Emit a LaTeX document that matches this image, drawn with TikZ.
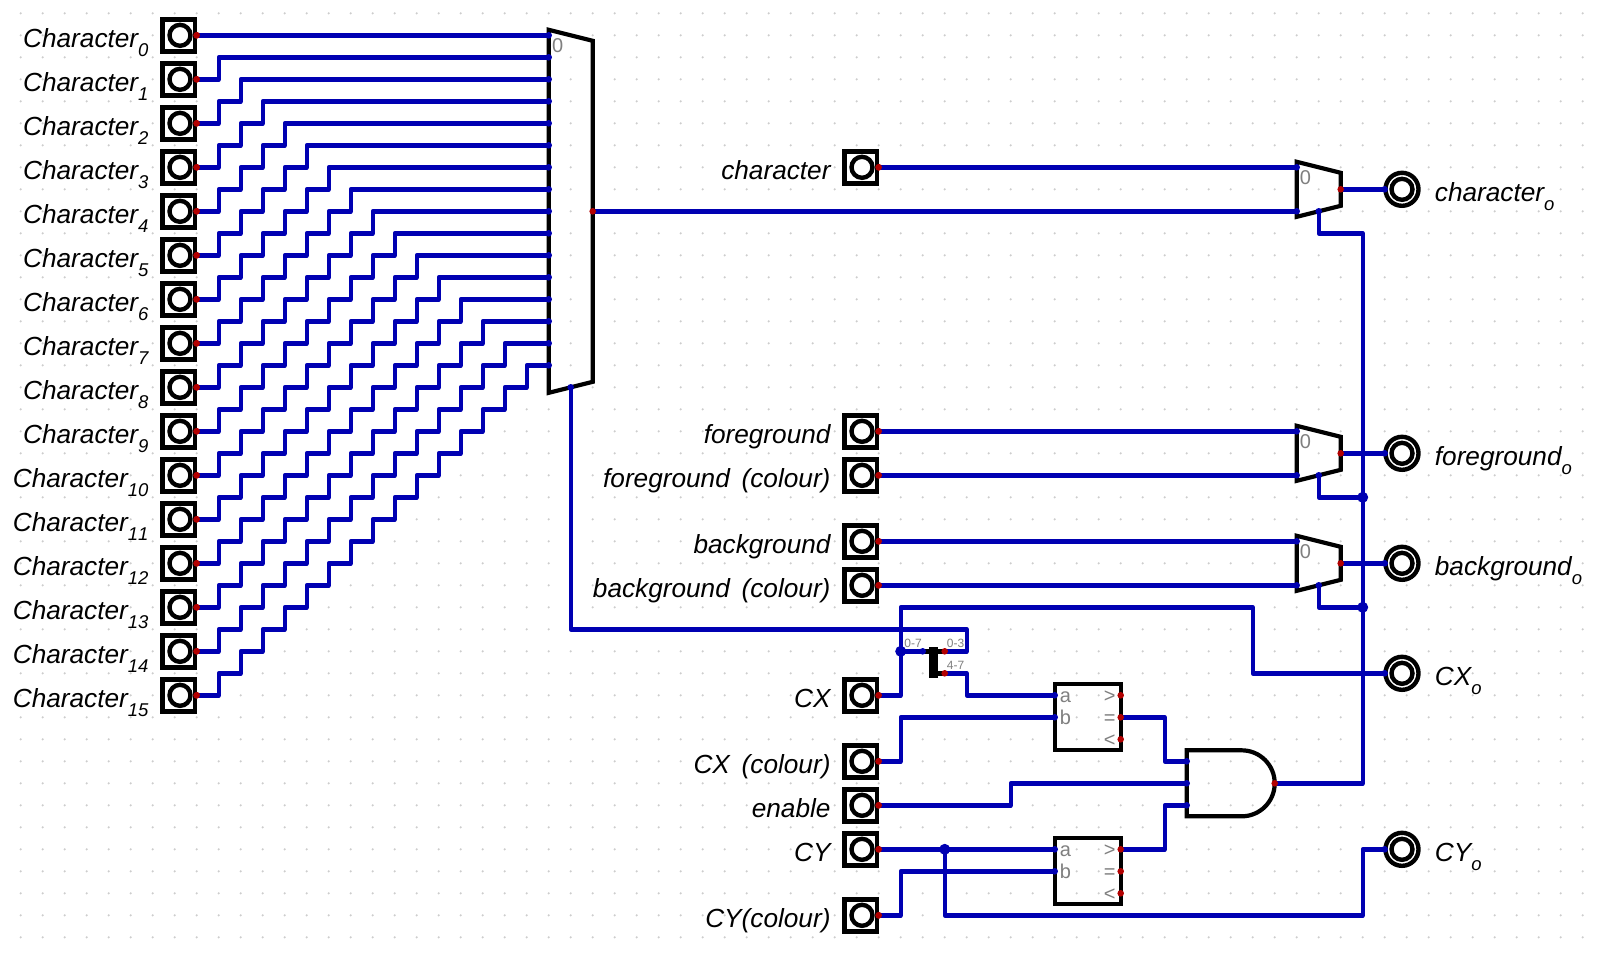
\documentclass[tikz,border=0pt]{standalone}
\usepackage{fontspec}
\setmainfont{Liberation Sans}
\usetikzlibrary{calc}
\definecolor{wireblue}{RGB}{0,0,178}
\definecolor{pinred}{RGB}{178,0,0}
\definecolor{griddot}{RGB}{205,205,205}
\definecolor{pingray}{RGB}{128,128,128}
\newcommand{\csub}[1]{\raisebox{-9pt}{\fontsize{18.5}{18.5}\selectfont\addfontfeatures{Kerning=Off}#1}}
\newcommand{\wgap}{\hspace{11.8pt}}
\tikzset{
  wire/.style={draw=wireblue,line width=4.4pt,line join=round,line cap=round},
  body/.style={draw=black,line width=4.2pt,line join=miter},
  inbox/.style={draw=black,fill=white,line width=4.8pt,minimum size=32.4pt,inner sep=0pt,rectangle},
  inring/.style={draw=black,fill=white,line width=4.4pt,circle,minimum size=21pt,inner sep=0pt},
  outring/.style={draw=black,fill=white,line width=4.4pt,circle,minimum size=33pt,inner sep=0pt},
  outcore/.style={draw=black,fill=white,line width=4.4pt,circle,minimum size=21pt,inner sep=0pt},
  lab/.style={inner sep=0pt,font=\fontsize{26.2}{30}\selectfont\itshape,text=black},
  tinylab/.style={inner sep=0pt,font=\fontsize{12}{12}\selectfont,text=pingray,anchor=base west},
  graylab/.style={inner sep=0pt,font=\fontsize{20}{20}\selectfont,text=pingray,anchor=base west},
  pindot/.style={circle,inner sep=0pt,minimum size=6.6pt,fill=#1},
  junction/.style={circle,inner sep=0pt,minimum size=11pt,fill=wireblue},
}
\newcommand{\inpin}[4]{%
  \coordinate (#1) at (#2,#3);
  \node[inbox] (#1-box) at ($(#1)+(-18pt,0)$) {};
  \node[inring] (#1-ring) at ($(#1)+(-16.7pt,0)$) {};
  \node[lab,anchor=base east] (#1-lab) at ($(#1)+(-48pt,-12pt)$) {#4};
  \node[pindot=pinred] (#1-dot) at (#1) {};
}
\newcommand{\outpin}[4]{%
  \coordinate (#1) at (#2,#3);
  \node[outring] (#1-ring) at ($(#1)+(17.3pt,0)$) {};
  \node[outcore] (#1-core) at ($(#1)+(17.3pt,0)$) {};
  \node[lab,anchor=base west] (#1-lab) at ($(#1)+(50pt,-12.5pt)$) {#4};
}
\newcommand{\smux}[3]{%
  \coordinate (#1-a) at (#2,#3);
  \coordinate (#1-b) at (#2,#3+2);
  \coordinate (#1-o) at (#2+2,#3+1);
  \coordinate (#1-s) at (#2+1,#3+2);
  \draw[body] (#2,#3-0.25) -- (#2+2,#3+0.25) -- (#2+2,#3+1.75) -- (#2,#3+2.25) -- cycle;
  \node[graylab] (#1-zero) at ($(#1-a)+(3pt,-17.5pt)$) {0};
}
\newcommand{\cmpbox}[3]{%
  \coordinate (#1-a) at (#2,#3);
  \coordinate (#1-b) at (#2,#3+1);
  \coordinate (#1-gt) at (#2+3,#3);
  \coordinate (#1-eq) at (#2+3,#3+1);
  \coordinate (#1-lt) at (#2+3,#3+2);
  \draw[body] (#2,#3-0.5) rectangle (#2+3,#3+2.5);
  \node[graylab] (#1-la) at ($(#1-a)+(5pt,-7pt)$) {a};
  \node[graylab] (#1-lb) at ($(#1-b)+(5pt,-7pt)$) {b};
  \node[graylab,anchor=base east] (#1-lg) at ($(#1-gt)+(-5pt,-7pt)$) {>};
  \node[graylab,anchor=base east] (#1-le) at ($(#1-eq)+(-5pt,-7pt)$) {=};
  \node[graylab,anchor=base east] (#1-ll) at ($(#1-lt)+(-5pt,-7pt)$) {<};
}
\begin{document}
\begin{tikzpicture}[x=22pt,y=-22pt]
\useasboundingbox[fill=white] (-0.941,-0.605) rectangle (71.832,42.94);
% grid
\foreach \i in {0,...,71}{\foreach \j in {0,...,42}{\fill[griddot] (\i,\j) circle (1.2pt);}}
% big multiplexer
\draw[body] (24,0.75) -- (26,1.25) -- (26,16.75) -- (24,17.25) -- cycle;
\node[graylab] (bigzero) at (24.15,1.8) {0};
\coordinate (bigout) at (26,9);
\coordinate (bigsel) at (25,17);
\foreach \k in {0,...,15}{
  \pgfmathtruncatemacro{\jj}{2*\k+1}
  \pgfmathtruncatemacro{\mm}{\k+1}
  \inpin{c\k}{8}{\jj}{Character\csub{\k}}
  \coordinate (m\k) at (24,\mm);
}
% other inputs
\inpin{character}{39}{7}{character}
\inpin{fg}{39}{19}{foreground}
\inpin{fgc}{39}{21}{foreground\wgap (colour)}
\inpin{bg}{39}{24}{background}
\inpin{bgc}{39}{26}{background\wgap (colour)}
\inpin{cx}{39}{31}{CX}
\inpin{cxc}{39}{34}{CX\wgap (colour)}
\inpin{en}{39}{36}{enable}
\inpin{cy}{39}{38}{CY}
\inpin{cyc}{39}{41}{CY(colour)}
% outputs
\outpin{ochar}{62}{8}{character\csub{o}}
\outpin{ofg}{62}{20}{foreground\csub{o}}
\outpin{obg}{62}{25}{background\csub{o}}
\outpin{ocx}{62}{30}{CX\csub{o}}
\outpin{ocy}{62}{38}{CY\csub{o}}
% small multiplexers
\smux{mc}{58}{7}
\smux{mf}{58}{19}
\smux{mb}{58}{24}
% comparators
\cmpbox{cmpx}{47}{31}
\cmpbox{cmpy}{47}{38}
% and gate
\draw[body] (53,33.5) -- (55.5,33.5) arc[start angle=90,end angle=-90,radius=33pt] -- (53,36.5) -- cycle;
\coordinate (anda) at (53,34);
\coordinate (andb) at (53,35);
\coordinate (andc) at (53,36);
\coordinate (ando) at (57,35);
% splitter
\coordinate (spin) at (41,29);
\coordinate (spo1) at (42,29);
\coordinate (spo2) at (42,30);
\coordinate (jcx) at (40,29);
\coordinate (jcy) at (42,38);
\coordinate (jf) at (61,22);
\coordinate (jb) at (61,27);
% wires
\draw[wire] (c0) -- (m0);
\foreach \k in {1,...,15}{
  \draw[wire] (c\k) \foreach \n in {1,...,\k}{ -- ++(1,0) -- ++(0,-1) } -- (m\k);
}
\draw[wire] (character) -- (mc-a);
\draw[wire] (bigout) -- (mc-b);
\draw[wire] (mc-o) -- (ochar);
\draw[wire] (fg) -- (mf-a);
\draw[wire] (fgc) -- (mf-b);
\draw[wire] (mf-o) -- (ofg);
\draw[wire] (bg) -- (mb-a);
\draw[wire] (bgc) -- (mb-b);
\draw[wire] (mb-o) -- (obg);
\draw[wire] (ando) -| (jb) -- (jf) -- (61,10) -| (mc-s);
\draw[wire] (mf-s) |- (jf);
\draw[wire] (mb-s) |- (jb);
\draw[wire] (bigsel) |- (43,28) |- (spo1);
\draw[wire] (cx) -| (jcx) |- (56,27) |- (ocx);
\draw[wire] (jcx) -- (spin);
\draw[wire] (spo2) -| (43,31) -- (cmpx-a);
\draw[wire] (cxc) -| (40,32) -- (cmpx-b);
\draw[wire] (cmpx-eq) -| (52,34) -- (anda);
\draw[wire] (en) -| (45,35) -- (andb);
\draw[wire] (cmpy-gt) -| (52,36) -- (andc);
\draw[wire] (cy) -- (cmpy-a);
\draw[wire] (cyc) -| (40,39) -- (cmpy-b);
\draw[wire] (jcy) |- (61,41) |- (ocy);
% splitter body
\fill[black] ($(spin)+(6.5pt,4.5pt)$) rectangle ($(spo2)+(-6.8pt,-4.5pt)$);
\draw[black,line width=4.4pt] (spin) -- ++(8pt,0);
\draw[black,line width=4.4pt] ($(spo1)+(-8pt,0)$) -- (spo1);
\draw[black,line width=4.4pt] ($(spo2)+(-8pt,0)$) -- (spo2);
\node[tinylab] (sp07) at ($(spin)+(-18.5pt,4pt)$) {0-7};
\node[tinylab] (sp03) at ($(spo1)+(2pt,4pt)$) {0-3};
\node[tinylab] (sp47) at ($(spo2)+(2pt,4pt)$) {4-7};
% pins
\foreach \p in {bigout,mc-o,mf-o,mb-o,cmpx-gt,cmpx-eq,cmpx-lt,cmpy-gt,cmpy-eq,cmpy-lt,ando,spo1,spo2}{
  \node[pindot=pinred] at (\p) {};
}
\foreach \k in {0,...,15}{\node[pindot=wireblue] at (m\k) {};}
\foreach \p in {bigsel,mc-a,mc-b,mc-s,mf-a,mf-b,mf-s,mb-a,mb-b,mb-s,ochar,ofg,obg,ocx,ocy,cmpx-a,cmpx-b,cmpy-a,cmpy-b,anda,andb,andc,spin}{
  \node[pindot=wireblue] at (\p) {};
}
\foreach \p in {jcx,jcy,jf,jb}{\node[junction] at (\p) {};}
\foreach \k in {0,...,15}{\node[pindot=pinred] at (c\k) {};}
\foreach \p in {character,fg,fgc,bg,bgc,cx,cxc,en,cy,cyc}{\node[pindot=pinred] at (\p) {};}
\end{tikzpicture}
\end{document}
